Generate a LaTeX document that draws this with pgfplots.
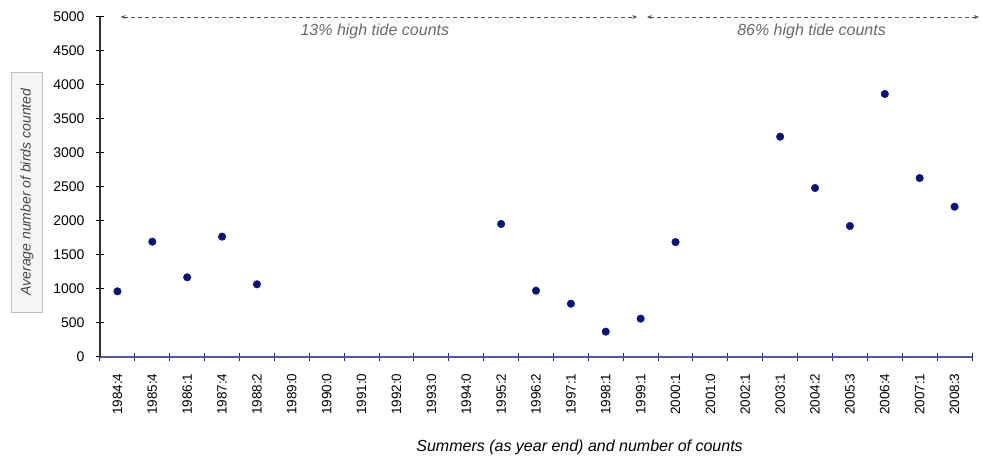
\documentclass[border=0pt]{standalone}
\usepackage{fontspec}
\setmainfont{Liberation Sans}
\usepackage{pgfplots}
\pgfplotsset{compat=1.18}
\usetikzlibrary{arrows.meta}
\definecolor{navy}{RGB}{10,20,115}
\definecolor{xaxisc}{RGB}{85,85,165}
\definecolor{xtickc}{RGB}{40,40,130}
\definecolor{annot}{RGB}{105,105,105}
\begin{document}
\begin{tikzpicture}
\begin{axis}[
  name=ax,
  scale only axis,
  width=872pt, height=340pt,
  xmin=-0.5, xmax=24.5, ymin=0, ymax=5000,
  axis x line*=bottom, axis y line*=left,
  axis line style={-},
  x axis line style={xaxisc, line width=1.3pt},
  y axis line style={black!80, line width=1.3pt},
  xtick pos=bottom, ytick pos=left,
  xtick={-0.5,0.5,...,24.5},
  x tick label as interval,
  xticklabels={1984:4,1985:4,1986:1,1987:4,1988:2,1989:0,1990:0,1991:0,1992:0,1993:0,1994:0,1995:2,1996:2,1997:1,1998:1,1999:1,2000:1,2001:0,2002:1,2003:1,2004:2,2005:3,2006:4,2007:1,2008:3},
  ytick={0,500,...,5000},
  major tick length=8pt,
  tick align=center,
  xtick style={xtickc, line width=1pt},
  ytick style={black, line width=1pt},
  xticklabel style={font=\fontsize{13.5}{15}\selectfont, rotate=90, anchor=east},
  yticklabel style={font=\fontsize{14}{16}\selectfont},
  xticklabel shift=9pt,
  yticklabel shift=8pt,
  /pgf/number format/1000 sep={},
  /pgf/number format/assume math mode=true,
  clip=false,
]
\addplot[only marks, mark=*, mark size=3.8pt, color=navy, mark options={fill=navy, draw=navy}] coordinates {
  (0,966) (1,1696) (2,1172) (3,1770) (4,1069)
  (11,1956) (12,975) (13,784) (14,373) (15,564)
  (16,1690) (19,3240) (20,2485) (21,1926) (22,3868) (23,2632) (24,2210)
};
\draw[annot!80!black, line width=0.7pt, dash pattern=on 4pt off 3pt, {Stealth[length=5pt,width=4pt]}-{Stealth[length=5pt,width=4pt]}] (axis cs:0.093,5000) -- (axis cs:14.90,5000);
\draw[annot!80!black, line width=0.7pt, dash pattern=on 4pt off 3pt, {Stealth[length=5pt,width=4pt]}-{Stealth[length=5pt,width=4pt]}] (axis cs:15.18,5000) -- (axis cs:24.70,5000);
\node[font=\itshape\fontsize{16}{18}\selectfont, text=annot] at (axis cs:7.38,4794) {13\% high tide counts};
\node[font=\itshape\fontsize{16}{18}\selectfont, text=annot] at (axis cs:19.9,4794) {86\% high tide counts};
\node[font=\itshape\fontsize{16}{18}\selectfont] at (axis description cs:0.55,-0.265) {Summers (as year end) and number of counts};
\node[rotate=90, draw=black!25, fill=black!4, line width=0.8pt, minimum width=240pt, minimum height=31pt, inner sep=0pt, font=\itshape\fontsize{14}{16}\selectfont, text=black!72] at (axis description cs:-0.0837,0.485) {Average number of birds counted};
\end{axis}
\pgfresetboundingbox
\path[use as bounding box] ([xshift=-100pt,yshift=-102pt]ax.south west) rectangle ([xshift=10pt,yshift=17pt]ax.north east);
\end{tikzpicture}
\end{document}
